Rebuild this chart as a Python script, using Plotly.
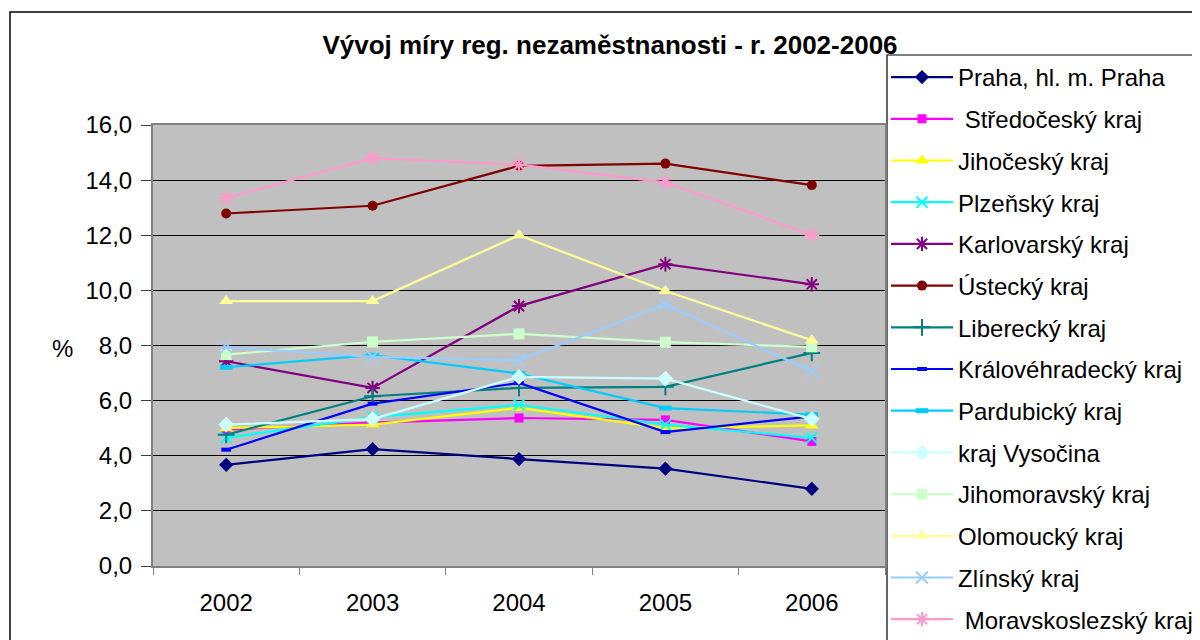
import plotly.graph_objects as go

years = ["2002", "2003", "2004", "2005", "2006"]

names = [
    "Praha, hl. m. Praha",
    " Středočeský kraj",
    "Jihočeský kraj",
    "Plzeňský kraj",
    "Karlovarský kraj",
    "Ústecký kraj",
    "Liberecký kraj",
    "Královéhradecký kraj",
    "Pardubický kraj",
    "kraj Vysočina",
    "Jihomoravský kraj",
    "Olomoucký kraj",
    "Zlínský kraj",
    " Moravskoslezský kraj",
]

praha = [3.67, 4.24, 3.88, 3.53, 2.80]
stredocesky = [4.95, 5.20, 5.37, 5.30, 4.52]
jihocesky = [5.00, 5.13, 5.74, 5.00, 5.10]
plzensky = [4.65, 5.40, 5.85, 5.13, 4.65]
karlovarsky = [7.43, 6.46, 9.43, 10.95, 10.22]
ustecky = [12.79, 13.07, 14.52, 14.60, 13.82]
liberecky = [4.76, 6.16, 6.46, 6.50, 7.73]
kralovehradecky = [4.22, 5.89, 6.64, 4.86, 5.43]
pardubicky = [7.21, 7.65, 6.98, 5.73, 5.49]
vysocina = [5.13, 5.33, 6.86, 6.80, 5.33]
jihomoravsky = [7.67, 8.13, 8.42, 8.12, 7.95]
olomoucky = [9.61, 9.61, 12.00, 9.98, 8.19]
zlinsky = [7.94, 7.59, 7.47, 9.49, 7.07]
moravskoslezsky = [13.35, 14.80, 14.56, 13.92, 12.01]

series = [praha, stredocesky, jihocesky, plzensky, karlovarsky, ustecky, liberecky,
          kralovehradecky, pardubicky, vysocina, jihomoravsky, olomoucky, zlinsky,
          moravskoslezsky]

colors = ["#000080", "#FF00FF", "#FFFF00", "#00FFFF", "#800080", "#800000", "#008080",
          "#0000FF", "#00CCFF", "#CCFFFF", "#CCFFCC", "#FFFF99", "#99CCFF", "#FF99CC"]

symbols = ["diamond", "square", "triangle-up", "x-thin-open", "asterisk-open", "circle",
           "cross-thin-open", "line-ew-open", "line-ew-open", "diamond", "square",
           "triangle-up", "x-thin-open", "asterisk-open"]
sizes = [11, 9, 12, 11, 12, 10, 12, 7, 9, 12, 11, 12, 12, 12]
mlw = [0, 0, 0, 2, 2, 0, 2, 4, 5, 0, 0, 0, 2, 2]

FONT = "Liberation Sans, Arial, sans-serif"

fig = go.Figure()
for i, (n, vals) in enumerate(zip(names, series)):
    fig.add_trace(go.Scatter(
        x=years, y=vals, name=n, mode="lines+markers",
        legendgroup=f"g{i}",
        line=dict(color=colors[i], width=2.2),
        marker=dict(symbol=symbols[i], size=sizes[i], color=colors[i],
                    line=dict(width=mlw[i], color=colors[i])),
    ))

# page is offset by 8px body margin; convert screen coords to figure coords
OFF = 8
W, H = 1200, 640
L, R, T, B = 153 - OFF, 885 - OFF, 125 - OFF, 566 - OFF
pw, ph = float(R - L), float(B - T)
def px(x):
    return (x - OFF - L) / pw
def py(y):
    return (B - (y - OFF)) / ph
def cx(x):
    return (x - OFF) / W
def cy(y):
    return 1 - (y - OFF) / H

# outer chart frame
fig.add_shape(type="rect", xref="paper", yref="paper",
              x0=px(10), x1=px(1197), y0=py(700), y1=py(12),
              line=dict(color="black", width=1.5), layer="below")
# legend frame
fig.add_shape(type="rect", xref="paper", yref="paper",
              x0=px(887), x1=px(1195), y0=py(700), y1=py(55),
              line=dict(color="black", width=1.2), fillcolor="white", layer="below")

fig.add_annotation(text="%", xref="paper", yref="paper", x=px(62), y=py(348),
                   showarrow=False, font=dict(family=FONT, size=24, color="black"),
                   xanchor="center", yanchor="middle")

fig.update_layout(
    width=W, height=H,
    margin=dict(l=L, r=W - R, t=T, b=H - B, autoexpand=False),
    paper_bgcolor="white",
    plot_bgcolor="#C0C0C0",
    separators=", ",
    font=dict(family=FONT, size=24, color="black"),
    title=dict(text="Vývoj míry reg. nezaměstnanosti - r. 2002-2006",
               x=cx(610), xref="container", xanchor="center",
               y=cy(45), yref="container", yanchor="middle",
               font=dict(family=FONT, size=26, color="black", weight="bold")),
    legend=dict(x=cx(886), y=cy(55), xref="container", yref="container",
                xanchor="left", yanchor="top",
                bgcolor="rgba(0,0,0,0)", borderwidth=0,
                font=dict(family=FONT, size=24, color="black"),
                tracegroupgap=7.5, itemwidth=62, maxheight=900),
    showlegend=True,
)

fig.update_xaxes(type="category", showline=True, linecolor="#808080", linewidth=2,
                 mirror=True, ticks="outside", tickson="boundaries", ticklen=7,
                 tickcolor="#808080", showgrid=False, range=[-0.5, 4.5],
                 ticklabelstandoff=14,
                 tickfont=dict(family=FONT, size=24, color="black"))
fig.update_yaxes(range=[0, 16], dtick=2, tickformat=".1f", showline=True,
                 linecolor="#808080", linewidth=2, mirror=True, ticks="outside",
                 ticklen=10, tickcolor="#404040", showgrid=True, gridcolor="black",
                 gridwidth=1, zeroline=False, ticklabelstandoff=4,
                 tickfont=dict(family=FONT, size=24, color="black"))

fig.write_html("out.html")
